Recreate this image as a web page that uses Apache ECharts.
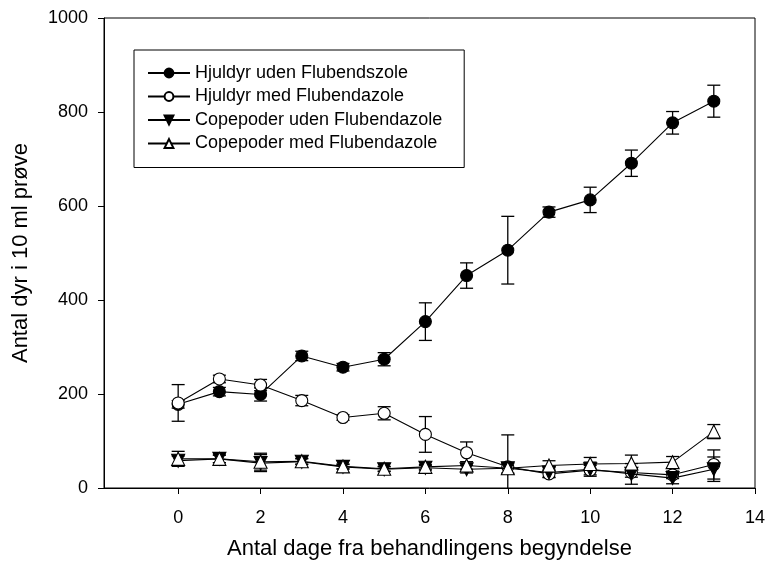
<!DOCTYPE html>
<html>
<head>
<meta charset="utf-8">
<script src="https://cdn.jsdelivr.net/npm/echarts@6/dist/echarts.min.js"></script>
<style>
  html, body { margin: 0; padding: 0; background: #fff; }
  #chart { width: 765px; height: 565px; }
</style>
</head>
<body>
<div id="chart"></div>
<script>
// Sampling days
var days = [0, 1, 2, 3, 4, 5, 6, 7, 8, 9, 10, 11, 12, 13];

// Mean counts per 10 ml and their error (± half-range of the bar)
var hjuldyrUden = [178, 205, 199, 281, 257, 274, 354, 452, 506, 587, 613, 691, 777, 823];
var hjuldyrUdenErr = [8, 9, 14, 10, 8, 14, 40, 27, 72, 11, 27, 28, 24, 34];

var hjuldyrMed = [181, 232, 219, 186, 150, 159, 114, 75, 45, 30, 38, 33, 28, 50];
var hjuldyrMedErr = [39, 8, 12, 11, 6, 14, 38, 23, 68, 8, 10, 10, 8, 31];

var copUden = [58, 62, 53, 56, 45, 40, 43, 40, 42, 33, 40, 30, 21, 40];
var copUdenErr = [10, 8, 18, 6, 5, 5, 5, 8, 12, 10, 15, 22, 12, 26];

var copMed = [62, 62, 56, 57, 46, 41, 45, 48, 42, 48, 51, 52, 55, 120];
var copMedErr = [16, 8, 18, 6, 5, 5, 5, 8, 10, 10, 14, 18, 12, 15];

var seriesNames = [
  'Hjuldyr uden Flubendszole',
  'Hjuldyr med Flubendazole',
  'Copepoder uden Flubendazole',
  'Copepoder med Flubendazole'
];

var xTicks = [0, 2, 4, 6, 8, 10, 12, 14];

var FONT = '"Liberation Sans", Arial, sans-serif';
var DOWN_TRIANGLE = 'path://M0,0 L10,0 L5,9 Z';

function pairs(vals) {
  return days.map(function (d, i) { return [d, vals[i]]; });
}
function errData(vals, errs) {
  return days.map(function (d, i) { return [d, vals[i], errs[i]]; });
}

// Vertical error bar with caps; the lower end stops at the x axis
function renderErr(params, api) {
  var x = api.value(0), y = api.value(1), e = api.value(2);
  var lowVal = y - e;
  var clipped = lowVal < 0;
  var hi = api.coord([x, y + e]);
  var lo = api.coord([x, clipped ? 0 : lowVal]);
  var cap = 6.5;
  var style = { stroke: '#000', lineWidth: 1.3 };
  var children = [
    { type: 'line', shape: { x1: hi[0], y1: hi[1], x2: lo[0], y2: lo[1] }, style: style },
    { type: 'line', shape: { x1: hi[0] - cap, y1: hi[1], x2: hi[0] + cap, y2: hi[1] }, style: style }
  ];
  if (!clipped) {
    children.push({ type: 'line', shape: { x1: lo[0] - cap, y1: lo[1], x2: lo[0] + cap, y2: lo[1] }, style: style });
  }
  return { type: 'group', children: children };
}

function lineSeries(name, vals, symbol, fill, size, z) {
  return {
    name: name,
    type: 'line',
    data: pairs(vals),
    symbol: symbol,
    symbolSize: size,
    showAllSymbol: true,
    z: z,
    lineStyle: { color: '#000', width: 1.1 },
    itemStyle: { color: fill, borderColor: '#000', borderWidth: 1.1, opacity: 1 },
    emphasis: { disabled: true },
    animation: false
  };
}

function errSeries(vals, errs, z) {
  return {
    type: 'custom',
    renderItem: renderErr,
    data: errData(vals, errs),
    z: z,
    silent: true,
    animation: false,
    encode: { x: 0, y: 1 }
  };
}

var chart = echarts.init(document.getElementById('chart'), null, { renderer: 'canvas' });

chart.setOption({
  backgroundColor: '#fff',
  animation: false,
  textStyle: { fontFamily: FONT },
  grid: {
    left: 104, top: 18, width: 651, height: 470,
    outerBoundsMode: 'none',
    containLabel: false,
    show: true, borderColor: '#000', borderWidth: 1, backgroundColor: 'transparent'
  },
  legend: {
    orient: 'vertical',
    left: 134,
    top: 50,
    data: seriesNames,
    itemWidth: 42,
    itemHeight: 11,
    itemGap: 5.5,
    padding: [14, 22, 15, 13],
    borderColor: '#000',
    borderWidth: 1,
    backgroundColor: '#fff',
    textStyle: { fontFamily: FONT, fontSize: 18, lineHeight: 18, color: '#000' },
    selectedMode: false
  },
  xAxis: {
    type: 'value',
    min: -1.8,
    max: 14,
    name: 'Antal dage fra behandlingens begyndelse',
    nameLocation: 'middle',
    nameGap: 50,
    nameTextStyle: { fontFamily: FONT, fontSize: 22, color: '#000' },
    axisLine: { show: true, onZero: false, lineStyle: { color: '#000', width: 1 } },
    axisTick: { show: true, inside: false, length: 6, customValues: xTicks, lineStyle: { color: '#000', width: 1 } },
    axisLabel: { customValues: xTicks, margin: 21, fontFamily: FONT, fontSize: 18, color: '#000' },
    splitLine: { show: false }
  },
  yAxis: {
    type: 'value',
    min: 0,
    max: 1000,
    interval: 200,
    name: 'Antal dyr i 10 ml prøve',
    nameLocation: 'middle',
    nameGap: 72,
    nameRotate: 90,
    nameTextStyle: { fontFamily: FONT, fontSize: 22, color: '#000' },
    axisLine: { show: true, onZero: false, lineStyle: { color: '#000', width: 1 } },
    axisTick: { show: true, inside: false, length: 6, lineStyle: { color: '#000', width: 1 } },
    axisLabel: {
      margin: 16, fontFamily: FONT, fontSize: 18, color: '#000',
      formatter: function (v) { return String(v); }
    },
    splitLine: { show: false }
  },
  series: [
    errSeries(hjuldyrUden, hjuldyrUdenErr, 1),
    errSeries(hjuldyrMed, hjuldyrMedErr, 1),
    errSeries(copUden, copUdenErr, 1),
    errSeries(copMed, copMedErr, 1),
    lineSeries(seriesNames[0], hjuldyrUden, 'circle', '#000', 12, 2),
    lineSeries(seriesNames[1], hjuldyrMed, 'circle', '#fff', 12, 3),
    lineSeries(seriesNames[2], copUden, DOWN_TRIANGLE, '#000', 13, 4),
    lineSeries(seriesNames[3], copMed, 'triangle', '#fff', 13, 5)
  ]
});
</script>
</body>
</html>
